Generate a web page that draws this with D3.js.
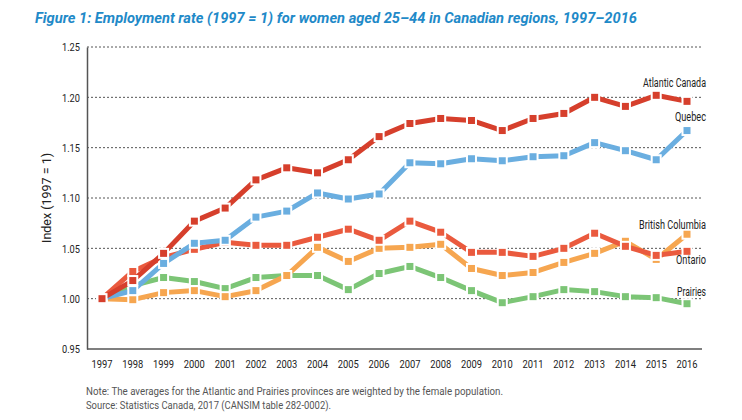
<!DOCTYPE html>
<html>
<head>
<meta charset="utf-8">
<title>Employment rate index</title>
<style>
  body { margin: 0; background: #fff; }
  text { font-family: "Roboto", "Liberation Sans", sans-serif; }
</style>
<script src="https://d3js.org/d3.v7.min.js"></script>
</head>
<body>
<svg></svg>
<script>
const years = d3.range(1997, 2017);
const yTicks = [0.95, 1.00, 1.05, 1.10, 1.15, 1.20, 1.25];

const atlantic = [1.000, 1.018, 1.045, 1.077, 1.090, 1.118, 1.130, 1.125, 1.138, 1.161, 1.174, 1.179, 1.177, 1.167, 1.179, 1.184, 1.200, 1.191, 1.202, 1.196];
const quebec   = [1.000, 1.008, 1.035, 1.055, 1.058, 1.081, 1.087, 1.105, 1.099, 1.104, 1.135, 1.134, 1.139, 1.137, 1.141, 1.142, 1.155, 1.147, 1.138, 1.167];
const ontario  = [1.000, 1.027, 1.041, 1.049, 1.056, 1.053, 1.053, 1.061, 1.069, 1.058, 1.077, 1.066, 1.046, 1.046, 1.042, 1.050, 1.065, 1.052, 1.043, 1.047];
const bc       = [1.000, 0.999, 1.006, 1.008, 1.002, 1.008, 1.023, 1.051, 1.037, 1.050, 1.051, 1.054, 1.030, 1.023, 1.026, 1.036, 1.045, 1.057, 1.039, 1.064];
const prairies = [1.000, 1.013, 1.021, 1.017, 1.010, 1.021, 1.023, 1.023, 1.009, 1.025, 1.032, 1.021, 1.008, 0.996, 1.002, 1.009, 1.007, 1.002, 1.001, 0.995];

const series = [
  { name: "Prairies", values: prairies, color: "#7cc576" },
  { name: "British Columbia", values: bc, color: "#f6a650" },
  { name: "Ontario", values: ontario, color: "#ea5a3e" },
  { name: "Quebec", values: quebec, color: "#6aaee0" },
  { name: "Atlantic Canada", values: atlantic, color: "#d63f2c" }
];
// end label baselines (in index units) and rough widths of the condensed face
const labelPos = { "Atlantic Canada": 1.210, "Quebec": 1.176, "British Columbia": 1.069, "Ontario": 1.034, "Prairies": 1.003 };
const labelLen = { "Atlantic Canada": 63, "Quebec": 31, "British Columbia": 67, "Ontario": 30, "Prairies": 29 };

const W = 742, H = 420;
const svg = d3.select("svg").attr("width", W).attr("height", H);

const x = d3.scalePoint().domain(years).range([102, 687]);
const y = d3.scaleLinear().domain([0.95, 1.25]).range([349, 47]);
const left = 87, right = 702;

// squeeze text into the narrow width of the original condensed font
const squeeze = (sel, len) => sel.attr("textLength", len).attr("lengthAdjust", "spacingAndGlyphs");

svg.append("text")
  .attr("x", 35).attr("y", 23)
  .attr("fill", "#1f8ac8")
  .style("font-size", "15px").style("font-weight", "bold").style("font-style", "italic")
  .text("Figure 1: Employment rate  (1997 = 1) for women aged 25\u201344 in Canadian regions, 1997\u20132016")
  .call(squeeze, 602);

// grid
svg.append("g").selectAll("line")
  .data(yTicks.slice(1))
  .join("line")
  .attr("x1", left).attr("x2", right)
  .attr("y1", d => y(d)).attr("y2", d => y(d))
  .attr("stroke", "#555").attr("stroke-width", 1).attr("stroke-dasharray", "2,2");

// axes
const yAxis = svg.append("g").attr("transform", `translate(${left},0)`)
  .call(d3.axisLeft(y).tickValues(yTicks).tickFormat(d3.format(".2f")).tickSize(0).tickPadding(7));
yAxis.select(".domain").attr("stroke", "#555").attr("stroke-width", 1.5);
yAxis.selectAll("text").style("font-size", "11.5px").attr("fill", "#222").call(squeeze, 18);

const xAxis = svg.append("g").attr("transform", `translate(0,349)`);
xAxis.append("line").attr("x1", left).attr("x2", right).attr("y1", 0).attr("y2", 0)
  .attr("stroke", "#555").attr("stroke-width", 1.5);
xAxis.selectAll("text").data(years).join("text")
  .attr("x", d => x(d)).attr("y", 19)
  .attr("text-anchor", "middle").attr("fill", "#222")
  .style("font-size", "11.5px")
  .text(d => d)
  .call(squeeze, 21);

svg.append("text")
  .attr("transform", "translate(51,198) rotate(-90)")
  .attr("text-anchor", "middle").attr("fill", "#222")
  .style("font-size", "12.5px")
  .text("Index (1997 = 1)")
  .call(squeeze, 90);

// lines with white-edged square markers
const line = d3.line().x((d, i) => x(years[i])).y(d => y(d));
const g = svg.append("g");
series.forEach(s => {
  const sg = g.append("g");
  sg.append("path").datum(s.values)
    .attr("d", line).attr("fill", "none")
    .attr("stroke", s.color).attr("stroke-width", 5).attr("stroke-linejoin", "round");
  sg.selectAll("rect").data(s.values).join("rect")
    .attr("x", (d, i) => x(years[i]) - 4.5).attr("y", d => y(d) - 4.5)
    .attr("width", 9).attr("height", 9)
    .attr("fill", s.color).attr("stroke", "#fff").attr("stroke-width", 2);
  svg.append("text")
    .attr("x", 706).attr("y", y(labelPos[s.name]))
    .attr("text-anchor", "end").attr("fill", "#222")
    .style("font-size", "12.5px")
    .text(s.name)
    .call(squeeze, labelLen[s.name]);
});

svg.append("text").attr("x", 86).attr("y", 395).attr("fill", "#555").style("font-size", "10px")
  .text("Note: The averages for the Atlantic and Prairies provinces are weighted by the female population.")
  .call(squeeze, 417);
svg.append("text").attr("x", 86).attr("y", 409).attr("fill", "#555").style("font-size", "10px")
  .text("Source: Statistics Canada, 2017 (CANSIM table 282-0002).")
  .call(squeeze, 245);
</script>
</body>
</html>
